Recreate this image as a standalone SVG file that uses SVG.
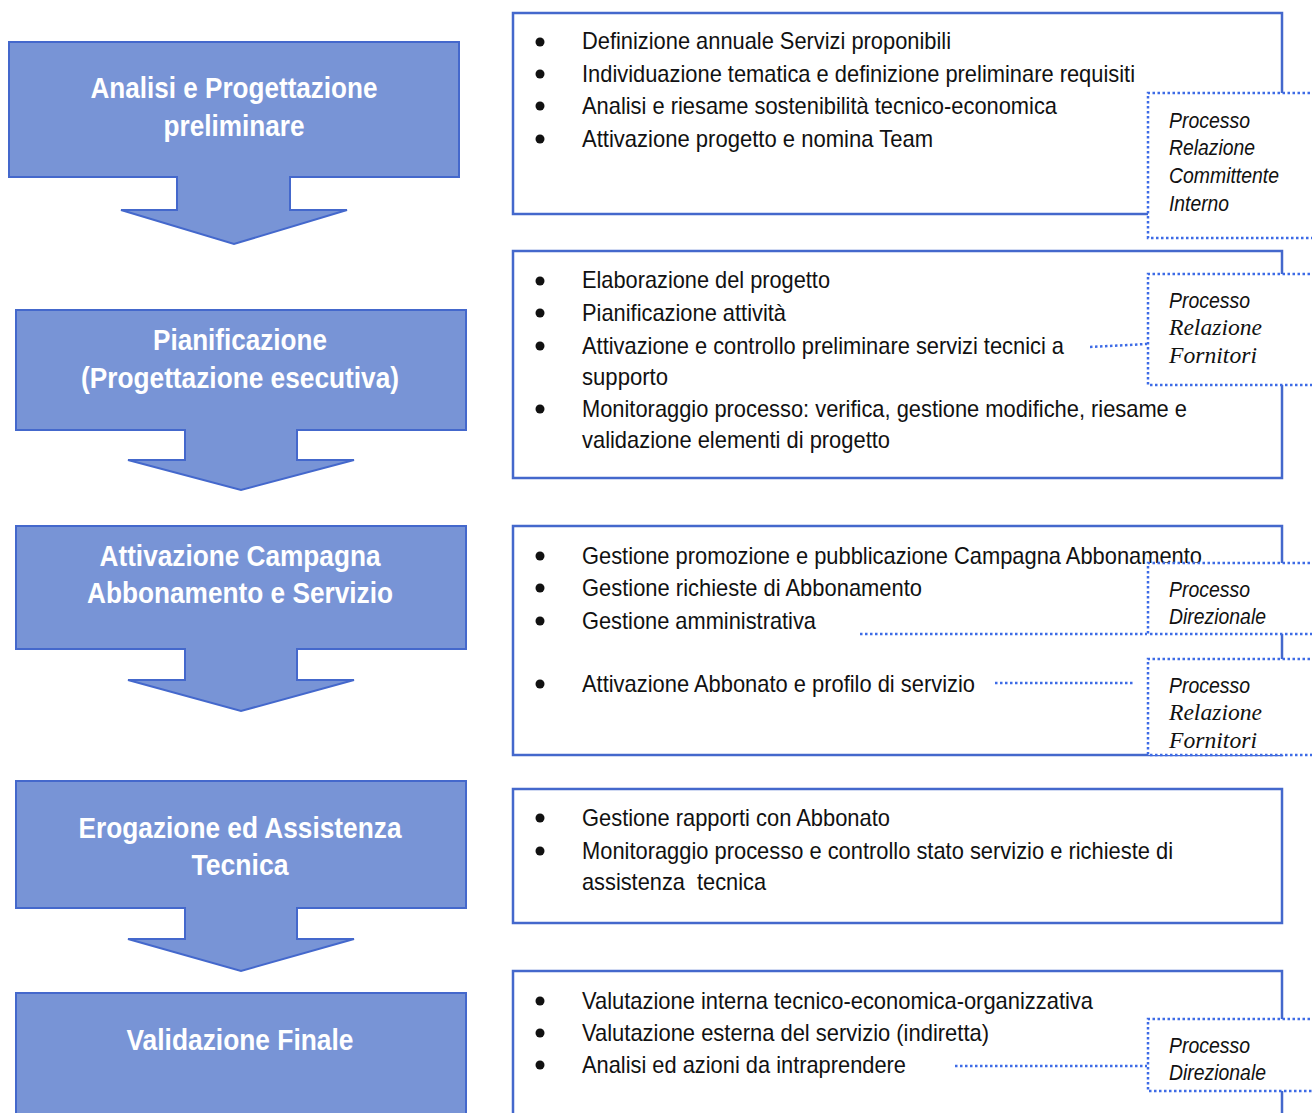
<svg xmlns="http://www.w3.org/2000/svg" width="1312" height="1113" viewBox="0 0 1312 1113">
<style>
.stage{fill:#7894D6;stroke:#4468CC;stroke-width:2}
.st{font-family:"Liberation Sans",Arial,sans-serif;font-weight:bold;font-size:29px;fill:#fff;text-anchor:middle}
.box{fill:#fff;stroke:#4468CC;stroke-width:2.5}
.tx{font-family:"Liberation Sans",Arial,sans-serif;font-size:24px;fill:#111}
.dot{fill:#fff;stroke:#3D6BE6;stroke-width:2.5;stroke-dasharray:2.5 2.5}
.dl{fill:none;stroke:#3D6BE6;stroke-width:2.5;stroke-dasharray:2.5 2.5}
.it{font-family:"Liberation Sans",Arial,sans-serif;font-style:italic;font-size:22px;fill:#111}
.its{font-family:"Liberation Serif","Times New Roman",serif;font-style:italic;font-size:23px;fill:#111}
.b{fill:#111}
</style>
<defs>
<clipPath id="c3b"><rect x="1148" y="660" width="164" height="88"/></clipPath>
</defs>

<g id="stage1">
<path class="stage" d="M9,42 H459 V177 H290 V210 H347 L234,244 L121,210 H177 V177 H9 Z"/>
<text class="st" x="234" y="98" textLength="287" lengthAdjust="spacingAndGlyphs">Analisi e Progettazione</text>
<text class="st" x="234" y="136" textLength="141" lengthAdjust="spacingAndGlyphs">preliminare</text>
</g>
<g id="stage2">
<path class="stage" d="M16,310 H466 V430 H297 V460 H354 L241,490 L128,460 H185 V430 H16 Z"/>
<text class="st" x="240" y="350" textLength="174" lengthAdjust="spacingAndGlyphs">Pianificazione</text>
<text class="st" x="240" y="388" textLength="318" lengthAdjust="spacingAndGlyphs">(Progettazione esecutiva)</text>
</g>
<g id="stage3">
<path class="stage" d="M16,526 H466 V649 H297 V680 H354 L241,711 L128,680 H185 V649 H16 Z"/>
<text class="st" x="240" y="566" textLength="281" lengthAdjust="spacingAndGlyphs">Attivazione Campagna</text>
<text class="st" x="240" y="603" textLength="306" lengthAdjust="spacingAndGlyphs">Abbonamento e Servizio</text>
</g>
<g id="stage4">
<path class="stage" d="M16,781 H466 V908 H297 V939 H354 L241,971 L128,939 H185 V908 H16 Z"/>
<text class="st" x="240" y="838" textLength="323" lengthAdjust="spacingAndGlyphs">Erogazione ed Assistenza</text>
<text class="st" x="240" y="875" textLength="97" lengthAdjust="spacingAndGlyphs">Tecnica</text>
</g>
<g id="stage5">
<path class="stage" d="M16,1120 V993 H466 V1120"/>
<text class="st" x="240" y="1050" textLength="227" lengthAdjust="spacingAndGlyphs">Validazione Finale</text>
</g>

<g id="box1">
<rect class="box" x="513" y="13" width="769" height="201"/>
<circle class="b" cx="540" cy="42" r="4.5"/><circle class="b" cx="540" cy="74" r="4.5"/><circle class="b" cx="540" cy="106" r="4.5"/><circle class="b" cx="540" cy="139" r="4.5"/>
<text class="tx" x="582" y="49" textLength="369" lengthAdjust="spacingAndGlyphs">Definizione annuale Servizi proponibili</text>
<text class="tx" x="582" y="82" textLength="553" lengthAdjust="spacingAndGlyphs">Individuazione tematica e definizione preliminare requisiti</text>
<text class="tx" x="582" y="114" textLength="475" lengthAdjust="spacingAndGlyphs">Analisi e riesame sostenibilità tecnico-economica</text>
<text class="tx" x="582" y="147" textLength="351" lengthAdjust="spacingAndGlyphs">Attivazione progetto e nomina Team</text>
</g>
<g id="box2">
<rect class="box" x="513" y="251" width="769" height="227"/>
<circle class="b" cx="540" cy="281" r="4.5"/><circle class="b" cx="540" cy="313" r="4.5"/><circle class="b" cx="540" cy="346" r="4.5"/><circle class="b" cx="540" cy="409" r="4.5"/>
<text class="tx" x="582" y="288" textLength="248" lengthAdjust="spacingAndGlyphs">Elaborazione del progetto</text>
<text class="tx" x="582" y="321" textLength="204" lengthAdjust="spacingAndGlyphs">Pianificazione attività</text>
<text class="tx" x="582" y="354" textLength="482" lengthAdjust="spacingAndGlyphs">Attivazione e controllo preliminare servizi tecnici a</text>
<text class="tx" x="582" y="385" textLength="86" lengthAdjust="spacingAndGlyphs">supporto</text>
<text class="tx" x="582" y="417" textLength="605" lengthAdjust="spacingAndGlyphs">Monitoraggio processo: verifica, gestione modifiche, riesame e</text>
<text class="tx" x="582" y="448" textLength="308" lengthAdjust="spacingAndGlyphs">validazione elementi di progetto</text>
</g>
<g id="box3">
<rect class="box" x="513" y="526" width="769" height="229"/>
<circle class="b" cx="540" cy="556" r="4.5"/><circle class="b" cx="540" cy="588" r="4.5"/><circle class="b" cx="540" cy="621" r="4.5"/><circle class="b" cx="540" cy="684" r="4.5"/>
<text class="tx" x="582" y="564" textLength="620" lengthAdjust="spacingAndGlyphs">Gestione promozione e pubblicazione Campagna Abbonamento</text>
<text class="tx" x="582" y="596" textLength="340" lengthAdjust="spacingAndGlyphs">Gestione richieste di Abbonamento</text>
<text class="tx" x="582" y="629" textLength="234" lengthAdjust="spacingAndGlyphs">Gestione amministrativa</text>
<text class="tx" x="582" y="692" textLength="393" lengthAdjust="spacingAndGlyphs">Attivazione Abbonato e profilo di servizio</text>
</g>
<g id="box4">
<rect class="box" x="513" y="789" width="769" height="134"/>
<circle class="b" cx="540" cy="818" r="4.5"/><circle class="b" cx="540" cy="851" r="4.5"/>
<text class="tx" x="582" y="826" textLength="308" lengthAdjust="spacingAndGlyphs">Gestione rapporti con Abbonato</text>
<text class="tx" x="582" y="859" textLength="591" lengthAdjust="spacingAndGlyphs">Monitoraggio processo e controllo stato servizio e richieste di</text>
<text class="tx" x="582" y="890" textLength="184" lengthAdjust="spacingAndGlyphs">assistenza&#160; tecnica</text>
</g>
<g id="box5">
<path class="box" d="M513,1120 V971 H1282 V1120"/>
<circle class="b" cx="540" cy="1001" r="4.5"/><circle class="b" cx="540" cy="1033" r="4.5"/><circle class="b" cx="540" cy="1065" r="4.5"/>
<text class="tx" x="582" y="1009" textLength="511" lengthAdjust="spacingAndGlyphs">Valutazione interna tecnico-economica-organizzativa</text>
<text class="tx" x="582" y="1041" textLength="407" lengthAdjust="spacingAndGlyphs">Valutazione esterna del servizio (indiretta)</text>
<text class="tx" x="582" y="1073" textLength="324" lengthAdjust="spacingAndGlyphs">Analisi ed azioni da intraprendere</text>
</g>

<g id="connectors">
<path class="dl" d="M1090,347 L1147,344"/>
<path class="dl" d="M860,634 H1147"/>
<path class="dl" d="M995,683 H1135"/>
<path class="dl" d="M955,1066 H1147"/>
</g>

<g id="proc1">
<path class="dot" d="M1320,93 H1148 V238 H1320"/>
<text class="it" x="1169" y="128" textLength="81" lengthAdjust="spacingAndGlyphs">Processo</text>
<text class="it" x="1169" y="155" textLength="86" lengthAdjust="spacingAndGlyphs">Relazione</text>
<text class="it" x="1169" y="183" textLength="110" lengthAdjust="spacingAndGlyphs">Committente</text>
<text class="it" x="1169" y="211" textLength="60" lengthAdjust="spacingAndGlyphs">Interno</text>
</g>
<g id="proc2">
<path class="dot" d="M1320,274 H1148 V385 H1320"/>
<text class="it" x="1169" y="308" textLength="81" lengthAdjust="spacingAndGlyphs">Processo</text>
<text class="its" x="1169" y="335" textLength="93" lengthAdjust="spacingAndGlyphs">Relazione</text>
<text class="its" x="1169" y="363" textLength="88" lengthAdjust="spacingAndGlyphs">Fornitori</text>
</g>
<g id="proc3">
<path class="dot" d="M1320,563 H1148 V634 H1320"/>
<text class="it" x="1169" y="597" textLength="81" lengthAdjust="spacingAndGlyphs">Processo</text>
<text class="it" x="1169" y="624" textLength="97" lengthAdjust="spacingAndGlyphs">Direzionale</text>
</g>
<g id="proc4">
<path class="dot" d="M1320,659 H1148 V755 H1320"/>
<g clip-path="url(#c3b)">
<text class="it" x="1169" y="693" textLength="81" lengthAdjust="spacingAndGlyphs">Processo</text>
<text class="its" x="1169" y="720" textLength="93" lengthAdjust="spacingAndGlyphs">Relazione</text>
<text class="its" x="1169" y="748" textLength="88" lengthAdjust="spacingAndGlyphs">Fornitori</text>
</g>
</g>
<g id="proc5">
<path class="dot" d="M1320,1019 H1148 V1091 H1320"/>
<text class="it" x="1169" y="1053" textLength="81" lengthAdjust="spacingAndGlyphs">Processo</text>
<text class="it" x="1169" y="1080" textLength="97" lengthAdjust="spacingAndGlyphs">Direzionale</text>
</g>
</svg>
